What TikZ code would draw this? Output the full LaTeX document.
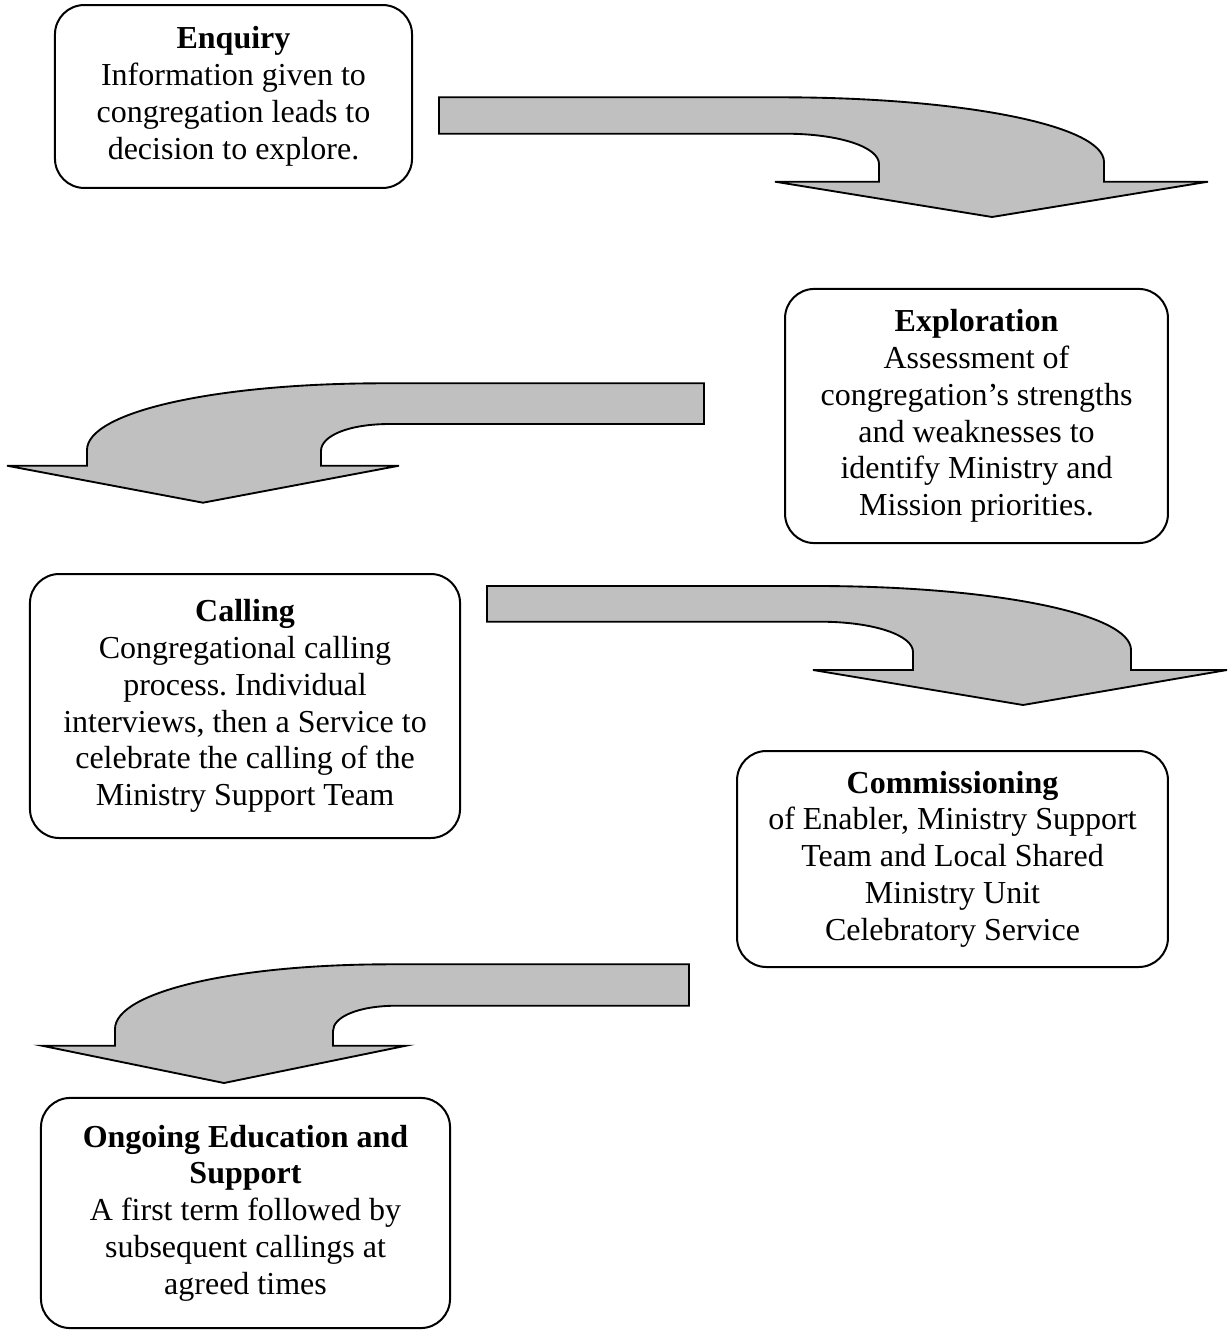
\documentclass[tikz,border=0pt]{standalone}
\usepackage{fontspec}
\setmainfont{Liberation Serif}
\usepackage{xcolor}
\definecolor{arrowgray}{RGB}{192,192,192}
\frenchspacing

\begin{document}
\begin{tikzpicture}[
    x=0.375pt,
    y=-0.375pt,
    stage/.style={
        draw,
        line width=0.75pt,
        rounded corners=11pt,
        align=center,
        inner sep=0pt,
        font=\fontsize{12}{13.8}\selectfont
    },
    bigarrow/.style={
        draw,
        fill=arrowgray,
        line width=0.7pt,
        line join=miter
    }
]

\useasboundingbox (0,0) rectangle (1232,1340);

\node[stage, minimum width=133.9pt, minimum height=68.6pt] (enquiry) at (233.5,96.5)
    {\textbf{Enquiry}\\Information given to\\congregation leads to\\decision to explore.};

\node[stage, minimum width=143.6pt, minimum height=95.3pt] (exploration) at (976.5,416)
    {\textbf{Exploration}\\Assessment of\\congregation’s strengths\\and weaknesses to\\identify Ministry and\\Mission priorities.};

\node[stage, minimum width=161.3pt, minimum height=99pt] (calling) at (245,706)
    {\textbf{Calling}\\Congregational calling\\process. Individual\\interviews, then a Service to\\celebrate the calling of the\\Ministry Support Team};

\node[stage, minimum width=161.6pt, minimum height=81pt] (commissioning) at (952.5,859)
    {\textbf{Commissioning}\\of Enabler, Ministry Support\\Team and Local Shared\\Ministry Unit\\Celebratory Service};

\node[stage, minimum width=153.4pt, minimum height=86.3pt] (ongoing) at (245.5,1213)
    {\textbf{Ongoing Education and}\\\textbf{Support}\\A first term followed by\\subsequent callings at\\agreed times};

\draw[bigarrow] (439,97.3) -- (780,97.3)
    .. controls (960,97.3) and (1104,125) .. (1104,162)
    -- (1104,181.7) -- (1208,181.7) -- (992,217) -- (775,181.7) -- (879,181.7) -- (879,164)
    .. controls (879,147) and (839,133.7) .. (785,133.7)
    -- (439,133.7) -- cycle;

\draw[bigarrow] (704,383.3) -- (383,383.3)
    .. controls (215,383.3) and (87,412) .. (87,450)
    -- (87,465.7) -- (7,465.7) -- (203,502.7) -- (399,465.7) -- (321,465.7) -- (321,451)
    .. controls (321,436) and (348,424) .. (390,424)
    -- (704,424) -- cycle;

\draw[bigarrow] (487,586) -- (815,586)
    .. controls (990,586) and (1131,613) .. (1131,650)
    -- (1131,670) -- (1227,670) -- (1023,705) -- (813,670) -- (913,670) -- (913,652)
    .. controls (913,635) and (873,621.7) .. (820,621.7)
    -- (487,621.7) -- cycle;

\draw[bigarrow] (689,964.3) -- (390,964.3)
    .. controls (234,964.3) and (115,992) .. (115,1029)
    -- (115,1045.7) -- (42,1045.7) -- (224,1083) -- (406,1045.7) -- (333,1045.7) -- (333,1031)
    .. controls (333,1017) and (358,1005.7) .. (397,1005.7)
    -- (689,1005.7) -- cycle;

\end{tikzpicture}
\end{document}
